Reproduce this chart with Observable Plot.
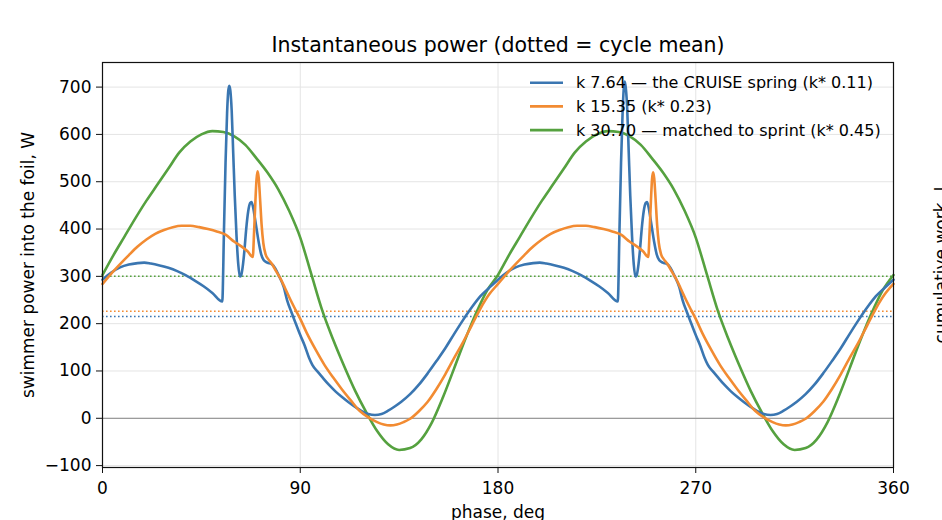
<!DOCTYPE html>
<html>
<head>
<meta charset="utf-8">
<script src="https://cdn.jsdelivr.net/npm/d3@7"></script>
<script src="https://cdn.jsdelivr.net/npm/@observablehq/plot@0.6"></script>
<style>
  html, body { margin: 0; padding: 0; background: #fff; }
  #chart { width: 942px; height: 520px; overflow: hidden; }
</style>
</head>
<body>
<div id="chart"></div>
<script>
// ---- data ----
const titleText = "Instantaneous power (dotted = cycle mean)";
const xLabelText = "phase, deg";
const yLabelText = "swimmer power into the foil, W";
const rightLabelText = "cumulative work, J";

const seriesNames = [
  "k 7.64 — the CRUISE spring (k* 0.11)",
  "k 15.35 (k* 0.23)",
  "k 30.70 — matched to sprint (k* 0.45)"
];
const cycleMeans = [215, 226, 300];

const xTicks = [0, 90, 180, 270, 360];
const yTicks = [-100, 0, 100, 200, 300, 400, 500, 600, 700];

// k 7.64 (blue)
const phaseBlue = [
  0, 4, 8, 12, 16, 19, 22, 26, 30, 34, 38, 42, 46, 50, 54.5,
  55.3, 56.0, 56.7, 57.2, 57.7, 58.2, 58.8, 59.5, 60.2, 61.0, 61.8, 62.5, 63.1, 63.8, 64.6,
  65.4, 66.3, 67.2, 67.8, 68.5, 69.3, 70.2, 71.1, 72.2, 73.4, 75, 77, 78.5, 80.2, 82.5,
  84, 86, 88, 90, 92, 94, 95.5, 98, 100, 103, 106, 109, 112, 115, 118,
  121, 124, 127, 130, 133, 136, 140, 144, 148, 152, 156, 160, 164, 168, 172, 176,
  180, 184, 188, 192, 196, 199, 202, 206, 210, 214, 218, 222, 226, 230, 234.5,
  235.3, 236.0, 236.7, 237.2, 237.7, 238.2, 238.8, 239.5, 240.2, 241.0, 241.8, 242.5, 243.1, 243.8, 244.6,
  245.4, 246.3, 247.2, 247.8, 248.5, 249.3, 250.2, 251.1, 252.2, 253.4, 255, 257, 258.5, 260.2, 262.5,
  264, 266, 268, 270, 272, 274, 275.5, 278, 280, 283, 286, 289, 292, 295, 298,
  301, 304, 307, 310, 313, 316, 320, 324, 328, 332, 336, 340, 344, 348, 352, 356, 360
];
const powerBlue = [
  293, 308, 319, 325, 328, 329, 327, 323, 318, 311, 302, 291, 279, 265, 247,
  400, 540, 645, 690, 703, 692, 650, 560, 470, 385, 325, 300, 302, 320, 355,
  400, 437, 455, 457, 447, 425, 398, 372, 347, 334, 329, 326, 318, 302, 277,
  250, 224, 200, 176, 154, 128, 113, 98, 87, 71, 57, 45, 34, 24, 15,
  9, 7, 9, 16, 25, 35, 51, 71, 95, 121, 148, 178, 207, 234, 258, 276,
  293, 308, 319, 325, 328, 329, 327, 323, 318, 311, 302, 291, 279, 265, 247,
  400, 540, 645, 695, 712, 697, 655, 562, 470, 385, 325, 300, 302, 320, 355,
  400, 437, 455, 457, 447, 425, 398, 372, 347, 334, 329, 326, 318, 302, 277,
  250, 224, 200, 176, 154, 128, 113, 98, 87, 71, 57, 45, 34, 24, 15,
  9, 7, 9, 16, 25, 35, 51, 71, 95, 121, 148, 178, 207, 234, 258, 276, 293
];

// k 15.35 (orange)
const phaseOrange = [
  0, 4, 8, 12, 16, 20, 24, 28, 32, 36, 40, 44, 48, 52, 56, 60, 63, 66, 68.4,
  69.0, 69.6, 70.1, 70.6, 71.1, 71.7, 72.4, 73.2, 74.2, 75.5, 77, 79, 81, 83, 85.6,
  88, 90, 93, 97, 101, 105, 109, 113, 117, 121, 125, 128, 131, 134, 137, 140,
  144, 148, 152, 156, 160, 164, 168, 172, 176,
  180, 184, 188, 192, 196, 200, 204, 208, 212, 216, 220, 224, 228, 232, 236, 240, 243, 246, 248.4,
  249.0, 249.6, 250.1, 250.6, 251.1, 251.7, 252.4, 253.2, 254.2, 255.5, 257, 259, 261, 263, 265.6,
  268, 270, 273, 277, 281, 285, 289, 293, 297, 301, 305, 308, 311, 314, 317, 320,
  324, 328, 332, 336, 340, 344, 348, 352, 356, 360
];
const powerOrange = [
  284, 306, 326, 345, 363, 378, 390, 398, 404, 407, 407, 404, 400, 395, 388, 373, 364, 353, 341,
  395, 460, 505, 522, 508, 465, 410, 370, 347, 336, 327, 311, 295, 276, 250,
  228, 210, 180, 145, 113, 86, 61, 38, 16, 2, -8, -13, -15, -13, -8, -1,
  15, 35, 62, 93, 127, 160, 196, 232, 262,
  284, 306, 326, 345, 363, 378, 390, 398, 404, 407, 407, 404, 400, 395, 388, 373, 364, 353, 341,
  395, 460, 505, 520, 507, 465, 410, 370, 347, 336, 327, 311, 295, 276, 250,
  228, 210, 180, 145, 113, 86, 61, 38, 16, 2, -8, -13, -15, -13, -8, -1,
  15, 35, 62, 93, 127, 160, 196, 232, 262, 284
];

// k 30.70 (green)
const phaseGreen = [
  0, 5, 10, 15, 20, 25, 30, 35, 40, 45, 50, 55, 60, 65, 70, 75, 80, 85, 90,
  95, 100, 105, 110, 115, 120, 125, 130, 135, 140, 145, 150, 155, 160, 165, 170, 175,
  180, 185, 190, 195, 200, 205, 210, 215, 220, 225, 230, 235, 240, 245, 250, 255, 260, 265, 270,
  275, 280, 285, 290, 295, 300, 305, 310, 315, 320, 325, 330, 335, 340, 345, 350, 355, 360
];
const powerGreen = [
  303, 345, 384, 423, 460, 494, 528, 562, 585, 600, 607, 605, 596, 578, 550, 520, 484, 438, 382,
  305, 228, 166, 110, 58, 13, -27, -55, -67, -63, -45, -8, 45, 105, 166, 222, 270,
  303, 345, 384, 423, 460, 494, 528, 562, 585, 600, 607, 605, 596, 578, 550, 520, 484, 438, 382,
  305, 228, 166, 110, 58, 13, -27, -55, -67, -63, -45, -8, 45, 105, 166, 222, 270, 303
];

// ---- styles ----
const seriesColors = ["#3a76b1", "#f28b32", "#55a13f"];
const FONT = "'DejaVu Sans', 'Liberation Sans', sans-serif";

const rows = (phase, power) => phase.map((p, i) => ({phase: p, power: power[i]}));
const rowsBlue = rows(phaseBlue, powerBlue);
const rowsOrange = rows(phaseOrange, powerOrange);
const rowsGreen = rows(phaseGreen, powerGreen);
const meanRows = cycleMeans.map((m, i) => ({mean: m, color: seriesColors[i]}));

const lineStyle = {x: "phase", y: "power", strokeWidth: 2.6, strokeLinejoin: "round", strokeLinecap: "round", curve: "monotone-x"};

const chart = Plot.plot({
  width: 942,
  height: 520,
  marginLeft: 102,
  marginRight: 49,
  marginTop: 62,
  marginBottom: 53,
  style: {fontFamily: FONT, fontSize: "17px", color: "#000", background: "#fff"},
  x: {domain: [0, 360], ticks: xTicks, label: null},
  y: {domain: [-104, 752], ticks: yTicks, label: null},
  color: {type: "identity"},
  marks: [
    Plot.gridX(xTicks, {stroke: "#e4e4e4", strokeOpacity: 1, strokeWidth: 1}),
    Plot.gridY(yTicks, {stroke: "#e4e4e4", strokeOpacity: 1, strokeWidth: 1}),
    Plot.ruleY([0], {stroke: "#9b9b9b", strokeWidth: 1.3}),
    Plot.ruleY(meanRows, {y: "mean", stroke: "color", strokeWidth: 1.5, strokeDasharray: "1.6,2.4"}),
    Plot.line(rowsGreen, {...lineStyle, stroke: seriesColors[2]}),
    Plot.line(rowsBlue, {...lineStyle, stroke: seriesColors[0]}),
    Plot.line(rowsOrange, {...lineStyle, stroke: seriesColors[1]}),
    Plot.frame({stroke: "#111", strokeWidth: 1.2}),
    Plot.axisX({ticks: xTicks, tickSize: 6, tickPadding: 8, fontSize: 17, label: null, stroke: "#111"}),
    Plot.axisY({ticks: yTicks, tickSize: 6, tickPadding: 5, fontSize: 17, label: null, stroke: "#111"}),
    Plot.text([titleText], {text: d => d, frameAnchor: "top", dy: -10.5, lineAnchor: "bottom", fontSize: 20.5, fill: "#000"}),
    Plot.text([xLabelText], {text: d => d, frameAnchor: "bottom", dy: 50, lineAnchor: "bottom", fontSize: 17, fill: "#000"}),
    Plot.text([yLabelText], {text: d => d, frameAnchor: "left", dx: -69, rotate: -90, textAnchor: "middle", lineAnchor: "bottom", fontSize: 17, fill: "#000"}),
    Plot.text([rightLabelText], {text: d => d, frameAnchor: "right", dx: 53, rotate: -90, textAnchor: "middle", lineAnchor: "bottom", fontSize: 17, fill: "#000"})
  ]
});

// legend (no frame), upper right inside the axes
const svg = d3.select(chart);
const lg = svg.append("g").attr("font-family", FONT).attr("font-size", 16).attr("fill", "#000").attr("text-anchor", "start");
seriesNames.forEach((name, i) => {
  const y = 82.7 + i * 23.7;
  lg.append("line")
    .attr("x1", 530).attr("x2", 563).attr("y1", y).attr("y2", y)
    .attr("stroke", seriesColors[i]).attr("stroke-width", 2.6);
  lg.append("text").attr("x", 576).attr("y", y).attr("dy", "0.36em").text(name);
});

document.getElementById("chart").appendChild(chart);
</script>
</body>
</html>
